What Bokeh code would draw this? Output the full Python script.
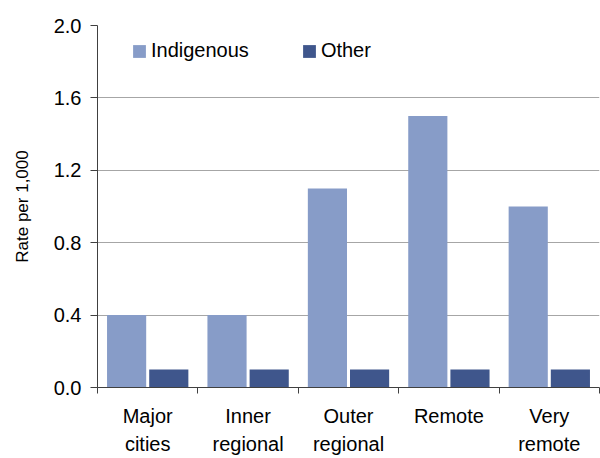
import numpy as np
from bokeh.plotting import figure
from bokeh.models import ColumnDataSource, FixedTicker, Range1d, Legend, LegendItem, NumeralTickFormatter
from bokeh.embed import file_html
from bokeh.resources import INLINE

categories = ["Major\ncities", "Inner\nregional", "Outer\nregional", "Remote", "Very\nremote"]
indigenous = [0.4, 0.4, 1.1, 1.5, 1.0]
other = [0.1, 0.1, 0.1, 0.1, 0.1]
y_ticks = [0.0, 0.4, 0.8, 1.2, 1.6, 2.0]

n = len(categories)
centers = np.arange(n) + 0.5
src = ColumnDataSource(dict(x_ind=centers - 0.21, x_oth=centers + 0.21,
                            ind=indigenous, oth=other))

FONT = "Liberation Sans"
p = figure(width=600, height=458, output_backend="svg", toolbar_location=None,
           x_range=Range1d(0, n), y_range=Range1d(0, 2.0),
           min_border_left=97, min_border_right=1, min_border_top=25, min_border_bottom=70)
p.outline_line_color = None
p.background_fill_color = "white"

r1 = p.vbar(x="x_ind", top="ind", width=0.39, source=src, fill_color="#879CC8", line_color=None)
r2 = p.vbar(x="x_oth", top="oth", width=0.39, source=src, fill_color="#3F568C", line_color=None)

p.xgrid.visible = False
p.ygrid.grid_line_color = "#A6A6A6"
p.ygrid.grid_line_width = 1
p.ygrid.ticker = FixedTicker(ticks=y_ticks)

xa = p.xaxis[0]
xa.ticker = FixedTicker(ticks=list(centers), minor_ticks=list(range(n + 1)))
xa.major_label_overrides = {float(c): lab for c, lab in zip(centers, categories)}
xa.major_tick_out = 0
xa.major_tick_in = 0
xa.minor_tick_out = 6
xa.minor_tick_in = 0
xa.minor_tick_line_color = "#404040"
xa.axis_line_color = "#404040"
xa.major_label_text_font = FONT
xa.major_label_text_font_size = "20px"
xa.major_label_text_color = "black"
xa.major_label_standoff = 11
xa.major_label_text_line_height = 1.3

ya = p.yaxis[0]
ya.ticker = FixedTicker(ticks=y_ticks)
ya.formatter = NumeralTickFormatter(format="0.0")
ya.minor_tick_line_color = None
ya.major_tick_out = 7
ya.major_tick_in = 0
ya.major_tick_line_color = "#404040"
ya.axis_line_color = "#404040"
ya.major_label_text_font = FONT
ya.major_label_text_font_size = "20px"
ya.major_label_text_color = "black"
ya.major_label_standoff = 9
ya.axis_label = "Rate per 1,000"
ya.axis_label_text_font = FONT
ya.axis_label_text_font_size = "17px"
ya.axis_label_text_font_style = "normal"
ya.axis_label_text_color = "black"
ya.axis_label_standoff = 19

legend = Legend(items=[LegendItem(label="Indigenous", renderers=[r1]),
                       LegendItem(label="Other", renderers=[r2])],
                orientation="horizontal", location=(34, 325),
                glyph_width=16, glyph_height=16, label_standoff=4, spacing=52,
                padding=0, margin=0, border_line_color=None, background_fill_alpha=0,
                label_text_font=FONT, label_text_font_size="20px", label_text_color="black")
p.add_layout(legend)

open("out.html", "w").write(file_html(p, INLINE))
